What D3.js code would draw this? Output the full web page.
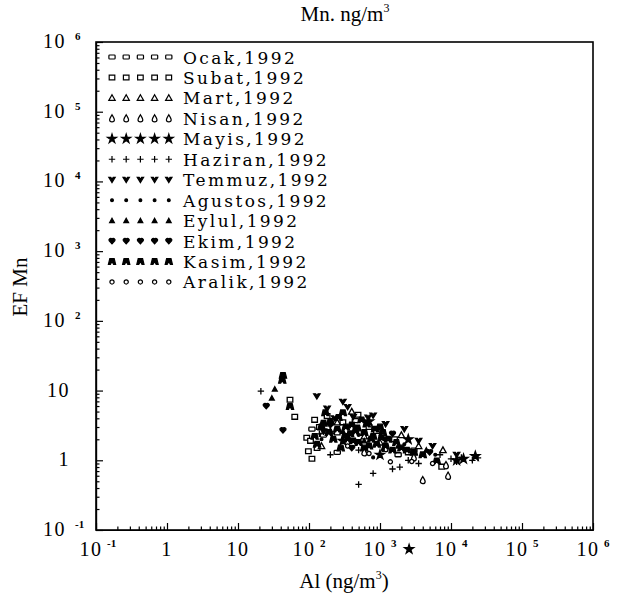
<!DOCTYPE html>
<html>
<head>
<meta charset="utf-8">
<script src="https://cdn.jsdelivr.net/npm/d3@7"></script>
<style>
  body { margin: 0; background: #fff; }
  text { fill: #000; }
</style>
</head>
<body>
<svg id="chart" width="635" height="606"></svg>
<script>
// ---- data (Al ng/m3, EF Mn) ----
const months = ['Ocak', 'Subat', 'Mart', 'Nisan', 'Mayis', 'Haziran',
  'Temmuz', 'Agustos', 'Eylul', 'Ekim', 'Kasim', 'Aralik'];

const ocak = [[110, 2.8], [450, 3.7], [900, 2.6], [1800, 1.2], [3000, 1.4], [250, 1.3], [160, 2.3]];
const subat = [[54, 7.4], [63, 4.2], [120, 3.8], [93, 2.1], [105, 1.9], [98, 1.35], [490, 4.5],
  [140, 3.0], [250, 2.5], [180, 4.3], [700, 3.0], [1600, 2.0], [7400, 0.81], [300, 3.5], [130, 1.5],
  [2500, 1.3], [110, 1.05]];
const mart = [[7700, 1.4], [250, 3.5], [400, 5.0], [600, 2.2], [150, 1.6], [2000, 2.3], [1000, 1.8], [3500, 1.6], [200, 2.6]];
const nisan = [[4000, 0.52], [9100, 0.6], [3000, 1.1], [1200, 1.5], [600, 1.3], [8500, 0.85]];
const mayis = [[2570, 0.053], [1000, 1.2], [300, 1.9], [2500, 2.0], [12000, 1.0], [700, 3.6], [15000, 1.05], [22000, 1.15]];
const haziran = [[21, 9.8], [500, 0.45], [1500, 0.75], [800, 0.65], [10000, 1.05], [12000, 0.95], [14000, 1.1],
  [7000, 1.2], [2500, 1.0], [3500, 0.9], [200, 1.2], [500, 1.4], [140, 2.4], [1900, 0.8], [20000, 1.0], [24000, 1.08]];
const temmuz = [[129, 8.3], [300, 6.9], [180, 5.5], [350, 5.8], [680, 4.1], [1200, 3.3], [3500, 1.9], [800, 4.4],
  [160, 2.6], [5500, 1.6], [12000, 1.2], [2200, 2.8], [230, 4.0], [420, 4.2]];
const agustos = [[150, 2.0], [500, 2.3], [1100, 1.4], [2200, 1.7], [350, 3.0], [6000, 1.2], [800, 1.1]];
const eylul = [[33, 10.5], [30, 7.8], [600, 1.9], [1800, 1.6], [300, 2.6], [4500, 1.4]];
const ekim = [[25, 6.0], [43, 2.7], [400, 1.5], [1500, 2.4], [5000, 1.3], [200, 3.2]];
const kasim = [[43, 16.5], [42, 14.0], [54, 5.9], [170, 4.8], [300, 4.8], [150, 3.0], [200, 3.6], [250, 2.8],
  [400, 3.2], [600, 2.5], [800, 2.2], [1000, 3.0], [1300, 2.0], [350, 2.0], [500, 1.8], [2000, 1.5],
  [700, 1.6], [1500, 1.4], [3000, 1.3], [6300, 0.98], [120, 2.2], [220, 2.0], [450, 2.6], [900, 1.7],
  [4000, 1.2], [130, 1.7], [280, 1.5], [550, 3.8], [1100, 2.5], [380, 2.4], [650, 3.3], [750, 2.0],
  [1200, 1.6], [420, 1.9], [1700, 1.8], [2400, 1.4], [190, 2.5], [160, 3.4], [260, 4.1], [330, 3.0],
  [480, 2.9], [850, 2.8], [1050, 2.1], [320, 2.2], [600, 1.5]];
const aralik = [[2800, 0.96], [700, 1.25], [1400, 0.95], [5500, 0.9], [350, 1.6]];

const series = [ocak, subat, mart, nisan, mayis, haziran, temmuz, agustos, eylul, ekim, kasim, aralik];

const decades = [0.1, 1, 10, 100, 1e3, 1e4, 1e5, 1e6];
const tickBase = ['10', '1', '10', '10', '10', '10', '10', '10'];
const tickExp = ['-1', '', '', '2', '3', '4', '5', '6'];

// ---- layout ----
const svg = d3.select('#chart');
const plotL = 96, plotR = 593, plotT = 42, plotB = 530;

const x = d3.scaleLog().domain([0.1, 1e6]).range([plotL, plotR]);
const y = d3.scaleLog().domain([0.1, 1e6]).range([plotB, plotT]);

const minors = [];
decades.slice(0, -1).forEach(d => {
  for (let m = 2; m <= 9; m++) minors.push(d * m);
});

// inward ticks
const axes = svg.append('g').attr('stroke-width', 1.2);
axes.append('g').attr('transform', `translate(${plotL},0)`)
  .call(d3.axisLeft(y).tickValues(decades).tickSize(-7).tickSizeOuter(0).tickFormat(''));
axes.append('g').attr('transform', `translate(${plotL},0)`)
  .call(d3.axisLeft(y).tickValues(minors).tickSize(-3.5).tickSizeOuter(0).tickFormat(''));
axes.append('g').attr('transform', `translate(0,${plotB})`)
  .call(d3.axisBottom(x).tickValues(decades).tickSize(-7).tickSizeOuter(0).tickFormat(''));
axes.append('g').attr('transform', `translate(0,${plotB})`)
  .call(d3.axisBottom(x).tickValues(minors).tickSize(-3.5).tickSizeOuter(0).tickFormat(''));
axes.selectAll('line, path').attr('stroke', '#000');

svg.append('rect')
  .attr('x', plotL).attr('y', plotT)
  .attr('width', plotR - plotL).attr('height', plotB - plotT)
  .attr('fill', 'none').attr('stroke', '#000').attr('stroke-width', 1.6);

// tick labels
const serif = '"Liberation Serif", "DejaVu Serif", serif';
decades.forEach((d, i) => {
  svg.append('text')
    .attr('x', tickExp[i] ? 66 : 70).attr('y', y(d) + 6)
    .attr('text-anchor', 'end')
    .style('font-family', serif).style('font-size', '20px').style('letter-spacing', '1.5px')
    .text(tickBase[i]);
  if (tickExp[i]) {
    svg.append('text').attr('x', 75).attr('y', y(d) - 2)
      .style('font-family', serif).style('font-size', '11px').style('font-weight', 'bold')
      .text(tickExp[i]);
  }
  const tx = x(d) - (tickExp[i] ? 5 : 0);
  svg.append('text')
    .attr('x', tx).attr('y', 556)
    .attr('text-anchor', 'middle')
    .style('font-family', serif).style('font-size', '20px').style('letter-spacing', '1.5px')
    .text(tickBase[i]);
  if (tickExp[i]) {
    svg.append('text').attr('x', tx + 16).attr('y', 547)
      .style('font-family', serif).style('font-size', '11px').style('font-weight', 'bold')
      .text(tickExp[i]);
  }
});

// titles
const title = svg.append('text').attr('x', 345).attr('y', 21).attr('text-anchor', 'middle')
  .style('font-family', serif).style('font-size', '21px');
title.append('tspan').text('Mn. ng/m');
title.append('tspan').attr('dy', -9).style('font-size', '12px').text('3');

const xt = svg.append('text').attr('x', 344).attr('y', 588).attr('text-anchor', 'middle')
  .style('font-family', serif).style('font-size', '21px');
xt.append('tspan').text('Al (ng/m');
xt.append('tspan').attr('dy', -9).style('font-size', '12px').text('3');
xt.append('tspan').attr('dy', 9).text(')');

svg.append('text')
  .attr('transform', 'translate(27,287) rotate(-90)')
  .attr('text-anchor', 'middle')
  .style('font-family', serif).style('font-size', '21px')
  .text('EF Mn');

// ---- marker shapes, one per month ----
const star = d3.symbol(d3.symbolStar, 26)();
const shapes = [
  { d: 'M-2.3,-2 h4.6 q0.8,0 0.8,0.8 v2.4 q0,0.8 -0.8,0.8 h-4.6 q-0.8,0 -0.8,-0.8 v-2.4 q0,-0.8 0.8,-0.8 Z', fill: '#fff' },
  { d: 'M-2.8,-2.4 h5.6 v4.8 h-5.6 Z', fill: '#fff' },
  { d: 'M0,-3.2 L3.2,2.5 L-3.2,2.5 Z', fill: '#fff' },
  { d: 'M0,-3.6 C1.2,-1.6 2.4,0 2.4,1.4 A2.4,2.2 0 0 1 -2.4,1.4 C-2.4,0 -1.2,-1.6 0,-3.6 Z', fill: '#fff' },
  { d: star, fill: '#000' },
  { d: 'M-3.2,0 H3.2 M0,-3.2 V3.2', fill: 'none' },
  { d: 'M-3.2,-2.4 L-1.2,-2.4 L0,-0.4 L1.2,-2.4 L3.2,-2.4 L0,2.8 Z', fill: '#000' },
  { d: 'M-1.4,0 a1.4,1.4 0 1 0 2.8,0 a1.4,1.4 0 1 0 -2.8,0 Z', fill: '#000' },
  { d: 'M0,-2.4 L2.4,2 L-2.4,2 Z', fill: '#000' },
  { d: 'M0,2.8 L-2.9,-0.4 A1.45,1.45 0 0 1 0,-1.6 A1.45,1.45 0 0 1 2.9,-0.4 Z', fill: '#000' },
  { d: 'M-3.6,2.8 L-2.2,-2.8 L2.2,-2.8 L3.6,2.8 L1.6,2.8 L0,0 L-1.6,2.8 Z', fill: '#000' },
  { d: 'M-2.1,0 a2.1,2.1 0 1 0 4.2,0 a2.1,2.1 0 1 0 -4.2,0 Z', fill: '#fff' }
];

// ---- points ----
const plot = svg.append('g');
series.forEach((pts, k) => {
  plot.append('g').selectAll('path')
    .data(pts)
    .join('path')
    .attr('transform', d => `translate(${x(d[0])},${y(d[1])})`)
    .attr('d', shapes[k].d)
    .attr('fill', shapes[k].fill)
    .attr('stroke', '#000')
    .attr('stroke-width', 1.3);
});

// ---- legend ----
const legY0 = 57, legDy = 20.45;
const legend = svg.append('g');
months.forEach((m, k) => {
  const ly = legY0 + k * legDy;
  for (let j = 0; j < 5; j++) {
    legend.append('path')
      .attr('transform', `translate(${112 + j * 14.2},${ly})`)
      .attr('d', shapes[k].d)
      .attr('fill', shapes[k].fill)
      .attr('stroke', '#000')
      .attr('stroke-width', 1.2);
  }
  legend.append('text')
    .attr('x', 183).attr('y', ly + 6.5)
    .style('font-family', '"DejaVu Serif", serif')
    .style('font-size', '17px')
    .style('letter-spacing', '2.4px')
    .text(m + ',1992');
});
</script>
</body>
</html>
